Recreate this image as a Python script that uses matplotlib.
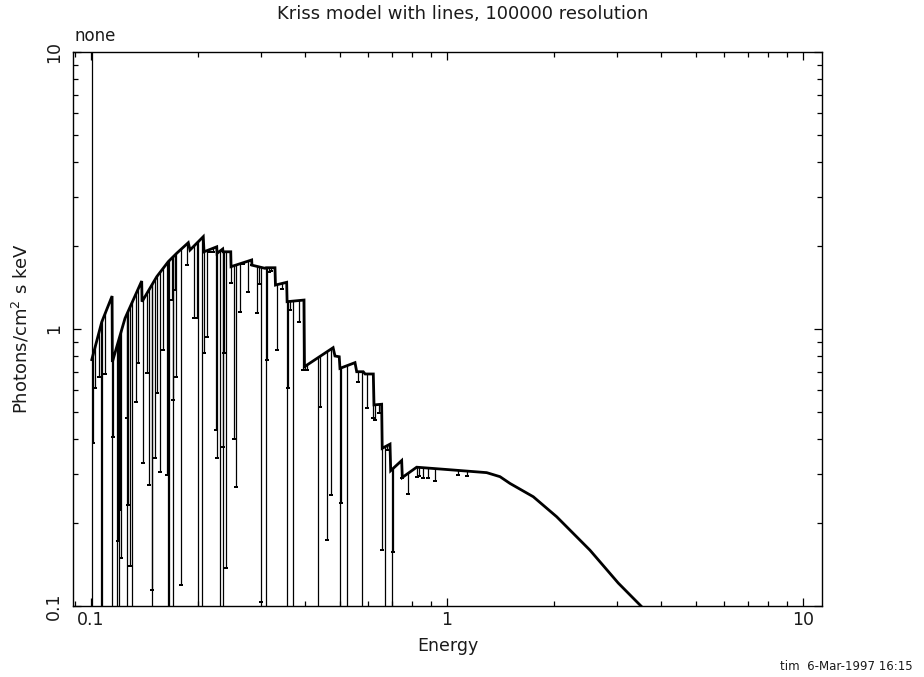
import numpy as np
import matplotlib
matplotlib.use("Agg")
import matplotlib.pyplot as plt
from matplotlib.patches import Polygon
from matplotlib.ticker import LogLocator, NullFormatter

# continuum knots (keV, photons/cm^2/s/keV); repeated energies are edges
CONT_E = [0.1005, 0.1072, 0.1146, 0.1148, 0.1246, 0.1388, 0.1391, 0.1530,
          0.1648, 0.1740, 0.1876, 0.1897, 0.2067, 0.2077, 0.2255, 0.2260,
          0.2344, 0.2349, 0.2469, 0.2474, 0.2827, 0.2832, 0.3082, 0.3102,
          0.3287, 0.3297, 0.3545, 0.3555, 0.3966, 0.3978, 0.4787, 0.4845,
          0.4981, 0.5004, 0.5515, 0.5577, 0.5818, 0.5887, 0.6209, 0.6237,
          0.6553, 0.6577, 0.6917, 0.6948, 0.7459, 0.7490, 0.8219, 0.998,
          1.2926, 1.409, 1.503, 1.7474, 2.033, 2.522, 3.028, 3.507]
CONT_F = [0.775, 1.06, 1.315, 0.760, 1.093, 1.49, 1.255, 1.545,
          1.750, 1.876, 2.049, 1.928, 2.154, 1.90, 1.98, 1.876,
          1.944, 1.90, 1.90, 1.679, 1.775, 1.70, 1.656, 1.664,
          1.664, 1.441, 1.474, 1.255, 1.272, 0.731, 0.856, 0.799,
          0.794, 0.721, 0.756, 0.701, 0.701, 0.688, 0.688, 0.532,
          0.535, 0.371, 0.384, 0.308, 0.335, 0.291, 0.317, 0.311,
          0.303, 0.293, 0.277, 0.248, 0.210, 0.159, 0.121, 0.100]

# absorption lines: centre energy and flux at line core (0.05 = saturated)
LINE_E = [0.1015, 0.1026, 0.1055, 0.1064, 0.1076, 0.1095, 0.1148, 0.1155,
          0.1186, 0.1194, 0.1202, 0.1208, 0.1212, 0.1259, 0.1266, 0.1273,
          0.1287, 0.1301, 0.1338, 0.1358, 0.1403, 0.1433, 0.1458, 0.1481,
          0.1487, 0.1513, 0.1536, 0.1562, 0.1596, 0.1631, 0.1648, 0.1656,
          0.1685, 0.1697, 0.1703, 0.1722, 0.1733, 0.1786, 0.1857, 0.1947,
          0.1981, 0.2001, 0.2047, 0.2077, 0.2113, 0.2150, 0.2197, 0.2245,
          0.2264, 0.2304, 0.2344, 0.2346, 0.2364, 0.2395, 0.2468, 0.2522,
          0.2555, 0.2622, 0.2667, 0.2766, 0.2827, 0.2920, 0.2971, 0.3009,
          0.3095, 0.3115, 0.3170, 0.3197, 0.3323, 0.3432, 0.3560, 0.3575,
          0.3622, 0.3685, 0.3847, 0.3948, 0.3991, 0.4034, 0.4350, 0.4397,
          0.4612, 0.4713, 0.5004, 0.5025, 0.5224, 0.5636, 0.5759, 0.5947,
          0.6183, 0.6277, 0.6441, 0.6553, 0.6682, 0.6798, 0.7005, 0.7035,
          0.7459, 0.7787, 0.8219, 0.8363, 0.8581, 0.8824, 0.9253, 1.076,
          1.136]
LINE_F = [0.388, 0.61, 0.673, 0.05, 0.05, 0.69, 0.05, 0.409,
          0.05, 0.171, 0.05, 0.222, 0.149, 0.05, 0.476, 0.232,
          0.139, 0.05, 0.547, 0.754, 0.329, 0.693, 0.273, 0.114,
          0.05, 0.341, 0.586, 0.305, 0.84, 0.297, 0.05, 0.05,
          1.27, 0.05, 0.554, 1.38, 0.673, 0.119, 1.70, 1.096,
          1.10, 0.05, 0.05, 0.817, 0.938, 1.90, 1.90, 0.432,
          0.341, 0.05, 0.05, 0.376, 0.817, 0.137, 1.46, 0.402,
          0.27, 1.155, 1.72, 1.364, 1.70, 1.14, 1.45, 0.103,
          0.05, 0.773, 1.60, 1.62, 0.84, 1.40, 0.05, 0.611,
          1.17, 0.05, 1.063, 0.711, 0.711, 0.711, 0.05, 0.524,
          0.173, 0.252, 0.05, 0.235, 0.05, 0.645, 0.05, 0.517,
          0.476, 0.469, 0.496, 0.159, 0.05, 0.366, 0.05, 0.157,
          0.289, 0.254, 0.293, 0.295, 0.290, 0.290, 0.283, 0.297,
          0.295]

TITLE = "Kriss model with lines, 100000 resolution"
STAMP = "tim  6-Mar-1997 16:15"
TXT = '#1a1a1a'

plt.rcParams['font.family'] = ['DejaVu Sans']
fig = plt.figure(figsize=(9.24, 6.77), dpi=100)
ax = fig.add_axes([73 / 924, 1 - 606 / 677, (822 - 73) / 924, (606 - 52) / 677])
ax.set_xscale('log')
ax.set_yscale('log')
ax.set_xlim(0.0890, 11.31)
ax.set_ylim(0.1, 10)

# continuum
ax.plot(CONT_E, CONT_F, color='black', lw=2.0, solid_joinstyle='miter', zorder=3)
ax.axvline(CONT_E[0], color='black', lw=0.9, zorder=2)

# lines are drawn up from their cores and cut off at the continuum
under = Polygon(list(zip(CONT_E, CONT_F)) + [(CONT_E[-1], 1e-4), (CONT_E[0], 1e-4)],
                closed=True, transform=ax.transData)
vl = ax.vlines(LINE_E, LINE_F, 20, color='black', lw=0.9, zorder=2)
vl.set_clip_path(under)
tips, = ax.plot(LINE_E, LINE_F, ls='none', marker='_', ms=2.5, mew=1.2,
                color='black', zorder=2)
tips.set_clip_path(under)

# axes styling
for sp in ax.spines.values():
    sp.set_linewidth(1.0)
ax.set_xticks([0.1, 1, 10])
ax.set_xticklabels(['0.1', '1', '10'])
ax.set_yticks([0.1, 1, 10])
ax.set_yticklabels(['0.1', '1', '10'], rotation=90, va='center')
ax.xaxis.set_minor_locator(LogLocator(base=10, subs=np.arange(2, 10)))
ax.yaxis.set_minor_locator(LogLocator(base=10, subs=np.arange(2, 10)))
ax.xaxis.set_minor_formatter(NullFormatter())
ax.yaxis.set_minor_formatter(NullFormatter())
ax.tick_params(which='both', direction='in', top=True, right=True,
               labelsize=12.5, labelcolor=TXT, width=0.9, color='black')
ax.tick_params(which='major', length=6)
ax.tick_params(which='minor', length=3.6)
ax.tick_params(axis='x', pad=3.5)
ax.tick_params(axis='y', pad=7)

ax.set_xlabel('Energy', fontsize=12.5, color=TXT, labelpad=6)
ax.set_ylabel('Photons/cm$^2$ s keV', fontsize=13, color=TXT, labelpad=10)

fig.text(463 / 924, 1 - 14 / 677, TITLE, ha='center', va='center',
         fontsize=13, color=TXT)
ax.text(0.002, 1.012, 'none', transform=ax.transAxes, ha='left', va='bottom',
        fontsize=12, color=TXT)
fig.text(913 / 924, 1 - 667 / 677, STAMP, ha='right', va='center',
         fontsize=8.5, color=TXT)

fig.savefig('out.png', dpi=100)
